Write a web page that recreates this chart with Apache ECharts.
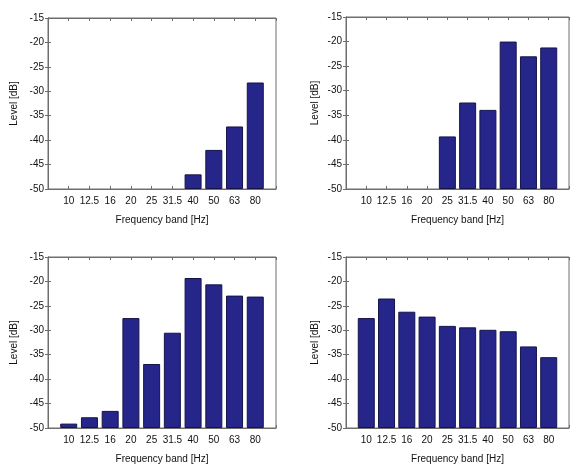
<!DOCTYPE html>
<html>
<head>
<meta charset="utf-8">
<script src="https://cdn.jsdelivr.net/npm/echarts@6/dist/echarts.min.js"></script>
<style>
  html, body { margin: 0; padding: 0; background: #fff; }
  #chart { width: 572px; height: 465px; }
</style>
</head>
<body>
<div id="chart"></div>
<script>
// Third-octave frequency bands (Hz)
const bands = ['10', '12.5', '16', '20', '25', '31.5', '40', '50', '63', '80'];

// Band levels in dB for each of the four panels (null = below the -50 dB floor)
const levelsA = [null, null, null, null, null, null, -47.0, -42.0, -37.2, -28.2];
const levelsB = [null, null, null, null, -39.3, -32.4, -33.9, -20.0, -23.0, -21.2];
const levelsC = [-49.1, -47.8, -46.5, -27.5, -36.9, -30.5, -19.3, -20.6, -22.9, -23.1];
const levelsD = [-27.5, -23.5, -26.2, -27.2, -29.1, -29.4, -29.9, -30.2, -33.3, -35.5];

// Level axis range and tick step
const levelMin = -50;
const levelMax = -15;
const levelStep = 5;

const panels = [
  { data: levelsA, left: 48,  top: 18,  width: 228, height: 171, nameGap: 29 },
  { data: levelsB, left: 346, top: 17,  width: 227, height: 172, nameGap: 26 },
  { data: levelsC, left: 48,  top: 257, width: 228, height: 173, nameGap: 29 },
  { data: levelsD, left: 346, top: 257, width: 227, height: 173, nameGap: 26 }
];

const textStyle = { fontFamily: 'Liberation Sans, Arial, sans-serif', fontSize: 10, color: '#111' };
const frameColor = '#6e6e6e';

const grid = [], xAxis = [], yAxis = [], series = [];

panels.forEach((p, i) => {
  grid.push({
    left: p.left, top: p.top, width: p.width, height: p.height,
    show: true, borderColor: frameColor, borderWidth: 1, backgroundColor: '#fff'
  });
  const slot = p.width / (bands.length + 1);
  // bottom band axis (positions 1..10 inside a 0..11 span)
  xAxis.push({
    gridIndex: i, type: 'value', min: 0, max: bands.length + 1, interval: 1,
    position: 'bottom',
    name: 'Frequency band [Hz]', nameLocation: 'middle', nameGap: 26,
    nameTextStyle: Object.assign({}, textStyle),
    axisLine: { show: true, lineStyle: { color: frameColor } },
    axisTick: { show: true, inside: true, length: 3, lineStyle: { color: frameColor } },
    axisLabel: Object.assign({
      margin: 7,
      showMinLabel: true, showMaxLabel: true,
      formatter: v => (v >= 1 && v <= bands.length) ? bands[v - 1] : ''
    }, textStyle),
    splitLine: { show: false }
  });
  // top frame ticks
  xAxis.push({
    gridIndex: i, type: 'value', min: 0, max: bands.length + 1, interval: 1,
    position: 'top',
    axisLine: { show: true, lineStyle: { color: frameColor } },
    axisTick: { show: true, inside: true, length: 3, lineStyle: { color: frameColor } },
    axisLabel: { show: false },
    splitLine: { show: false }
  });
  yAxis.push({
    gridIndex: i, type: 'value', min: levelMin, max: levelMax, interval: levelStep,
    startValue: levelMin,
    position: 'left',
    name: 'Level [dB]', nameLocation: 'middle', nameGap: p.nameGap, nameRotate: 90,
    nameTextStyle: Object.assign({}, textStyle),
    axisLine: { show: true, lineStyle: { color: frameColor } },
    axisTick: { show: true, inside: true, length: 3, lineStyle: { color: frameColor } },
    axisLabel: Object.assign({ margin: 4 }, textStyle),
    splitLine: { show: false }
  });
  // right frame ticks
  yAxis.push({
    gridIndex: i, type: 'value', min: levelMin, max: levelMax, interval: levelStep,
    position: 'right',
    axisLine: { show: true, lineStyle: { color: frameColor } },
    axisTick: { show: true, inside: true, length: 3, lineStyle: { color: frameColor } },
    axisLabel: { show: false },
    splitLine: { show: false }
  });
  series.push({
    type: 'bar',
    xAxisIndex: i * 2, yAxisIndex: i * 2,
    barWidth: Math.round(slot * 0.8),
    itemStyle: { color: '#26268a', borderColor: '#14144a', borderWidth: 1 },
    clip: true,
    silent: true,
    animation: false,
    data: p.data.map((v, k) => [k + 1, v])
  });
});

const chart = echarts.init(document.getElementById('chart'), null, { renderer: 'canvas' });
chart.setOption({
  animation: false,
  backgroundColor: '#fff',
  grid, xAxis, yAxis, series
});
</script>
</body>
</html>
